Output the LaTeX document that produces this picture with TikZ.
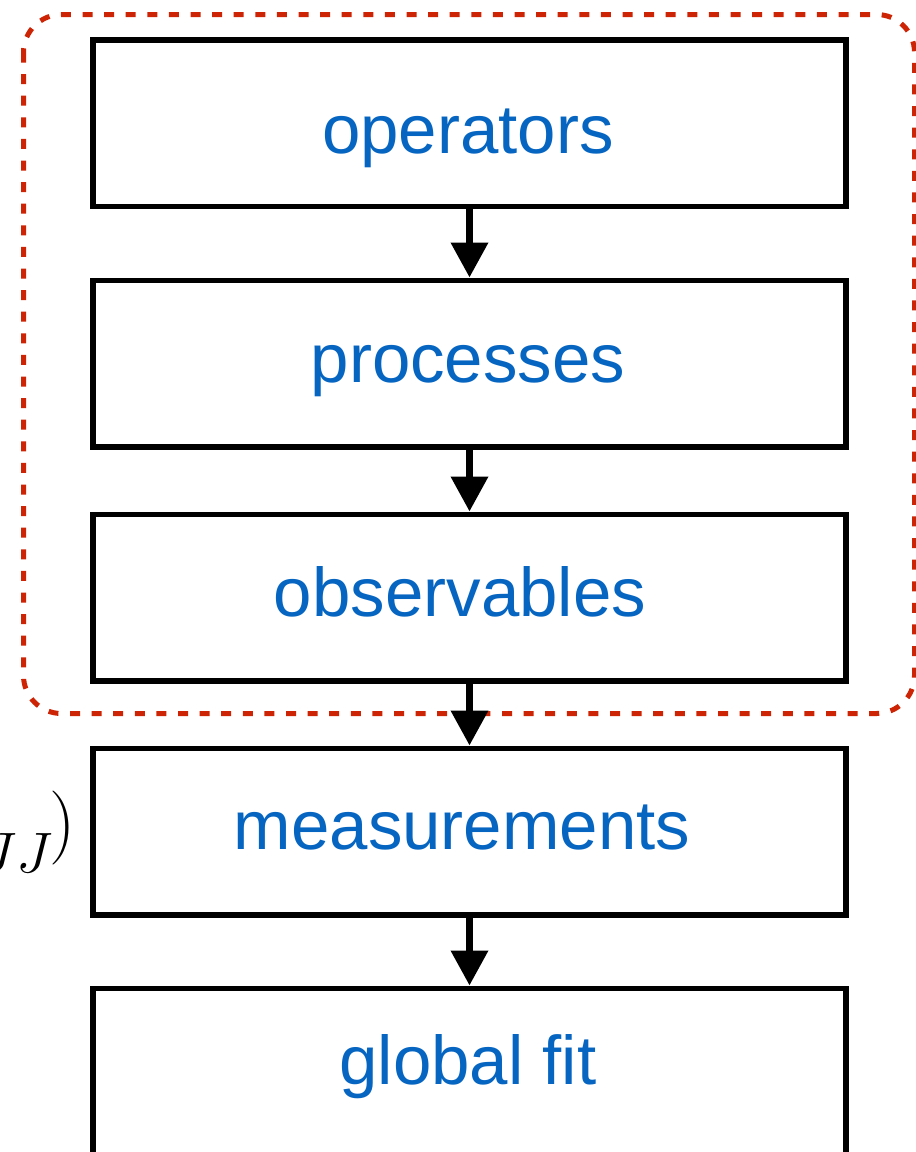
\RequirePackage{fix-cm}
\documentclass[tikz,border=0pt]{standalone}
\usepackage{fontspec}
\newfontfamily\lblfont{Liberation Sans}
\usetikzlibrary{arrows.meta}
\definecolor{stepblue}{RGB}{6,101,193}
\definecolor{groupred}{RGB}{204,36,4}
\tikzset{
  stepbox/.style={draw=black, line width=5.5pt, minimum width=753pt,
    minimum height=166.5pt, inner sep=0pt},
  steplabel/.style={anchor=base, inner sep=0pt, text=stepblue,
    font=\lblfont\fontsize{69}{80}\selectfont},
  flow/.style={line width=7pt, -{Triangle[width=36pt,length=35pt]}},
  groupframe/.style={draw=groupred, line width=5pt, rounded corners=38pt,
    dash pattern=on 10pt off 11.6pt}
}
\begin{document}
\begin{tikzpicture}[x=1pt,y=-1pt]
  \useasboundingbox (0,0) rectangle (916,1152);

  % the five stages of the chain
  \node[stepbox] (ops)  at (469.5,123)   {};
  \node[stepbox] (proc) at (469.5,363.5) {};
  \node[stepbox] (obs)  at (469.5,597.5) {};
  \node[stepbox] (meas) at (469.5,831.5) {};
  \node[stepbox] (fit)  at (469.5,1071.5) {};

  \node[steplabel] (opsT)  at (468,153)  {operators};
  \node[steplabel] (procT) at (468,382)  {processes};
  \node[steplabel] (obsT)  at (460,616)  {observables};
  \node[steplabel] (measT) at (462,849)  {measurements};
  \node[steplabel] (fitT)  at (468,1084) {global fit};

  % dashed group around the first three stages
  \draw[groupframe] (23.5,14.5) rectangle (914.5,713.5);

  % arrows between the stages
  \draw[flow] (ops.south)  -- (proc.north);
  \draw[flow] (proc.south) -- (obs.north);
  \draw[flow] (obs.south)  -- (meas.north);
  \draw[flow] (meas.south) -- (fit.north);

  % formula fragment at the left edge
  \node[anchor=base east, inner sep=0pt] (formula) at (76,846)
    {\fontsize{74}{80}\selectfont$\lower26pt\hbox{\fontsize{57}{60}\selectfont$JJ$}\kern-3pt)$};
\end{tikzpicture}
\end{document}
